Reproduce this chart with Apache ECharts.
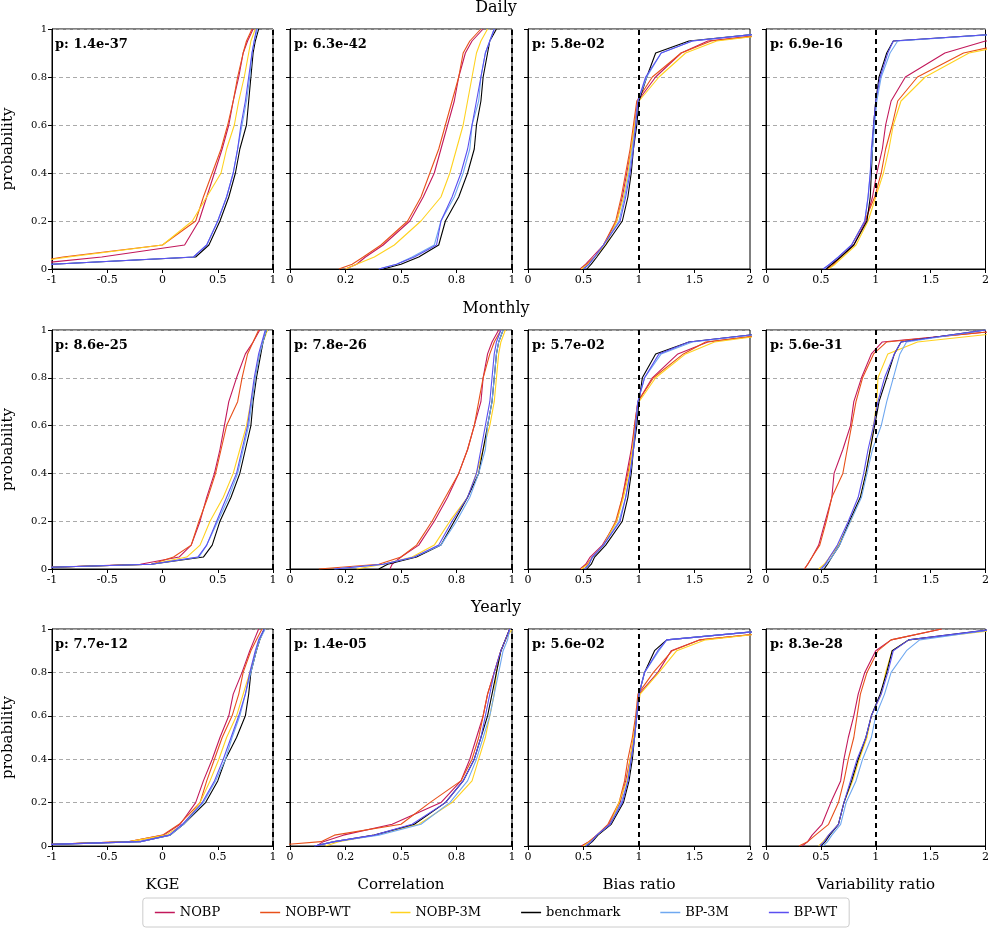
<!DOCTYPE html>
<html>
<head>
<meta charset="utf-8">
<script src="https://cdn.jsdelivr.net/npm/echarts@6/dist/echarts.min.js"></script>
<style>html,body{margin:0;padding:0;background:#fff}#main{width:992px;height:935px}</style>
</head>
<body>
<div id="main"></div>
<script>
// probability levels shared by every curve
const P = [0, 0.02, 0.05, 0.1, 0.2, 0.3, 0.4, 0.5, 0.6, 0.7, 0.8, 0.9, 0.95, 1];
const names = ['NOBP', 'NOBP-WT', 'NOBP-3M', 'benchmark', 'BP-3M', 'BP-WT'];
const colors = ['#c2185b', '#e8501a', '#ffd21f', '#000000', '#6fa8f0', '#5b4ff0'];
const rowTitles = ['Daily', 'Monthly', 'Yearly'];
const metrics = ['KGE', 'Correlation', 'Bias ratio', 'Variability ratio'];
const pvals = [
  ['1.4e-37', '6.3e-42', '5.8e-02', '6.9e-16'],
  ['8.6e-25', '7.8e-26', '5.7e-02', '5.6e-31'],
  ['7.7e-12', '1.4e-05', '5.6e-02', '8.3e-28']
];

const dKGE = [
  [-1.5,-1.2,-0.55,0.2,0.33,0.4,0.47,0.54,0.6,0.64,0.69,0.73,0.77,0.82],
  [-1.5,-1.3,-0.9,0.0,0.3,0.37,0.45,0.53,0.59,0.64,0.68,0.73,0.76,0.81],
  [-1.5,-1.3,-0.85,0.0,0.27,0.4,0.53,0.58,0.65,0.69,0.74,0.78,0.8,0.84],
  [-1.5,-1.0,0.3,0.42,0.52,0.6,0.66,0.7,0.76,0.78,0.8,0.82,0.84,0.87],
  [-1.5,-1.0,0.28,0.4,0.5,0.58,0.64,0.68,0.72,0.76,0.79,0.81,0.83,0.86],
  [-1.5,-1.0,0.28,0.4,0.5,0.58,0.64,0.68,0.71,0.75,0.78,0.81,0.83,0.85]
];
const dCorr = [
  [0.25,0.3,0.34,0.42,0.54,0.6,0.65,0.68,0.71,0.74,0.76,0.79,0.82,0.87],
  [0.22,0.28,0.33,0.41,0.53,0.59,0.63,0.67,0.7,0.73,0.76,0.78,0.81,0.86],
  [0.25,0.3,0.38,0.47,0.59,0.68,0.72,0.75,0.78,0.8,0.82,0.84,0.86,0.89],
  [0.42,0.5,0.58,0.67,0.7,0.76,0.8,0.83,0.84,0.86,0.87,0.89,0.9,0.93],
  [0.4,0.48,0.55,0.65,0.68,0.74,0.78,0.81,0.82,0.85,0.86,0.88,0.9,0.92],
  [0.4,0.48,0.56,0.66,0.68,0.73,0.77,0.8,0.82,0.84,0.86,0.88,0.9,0.92]
];
const dBias = [
  [0.47,0.52,0.58,0.68,0.8,0.85,0.89,0.93,0.96,0.99,1.15,1.38,1.62,2.6],
  [0.48,0.53,0.6,0.68,0.79,0.84,0.88,0.92,0.95,0.98,1.12,1.38,1.65,2.6],
  [0.48,0.54,0.6,0.7,0.8,0.86,0.9,0.93,0.96,1.0,1.18,1.42,1.7,2.6],
  [0.53,0.57,0.62,0.7,0.85,0.9,0.93,0.95,0.98,1.0,1.07,1.15,1.45,2.5],
  [0.5,0.55,0.6,0.68,0.82,0.87,0.91,0.94,0.97,0.99,1.07,1.2,1.48,2.5],
  [0.5,0.55,0.6,0.68,0.83,0.88,0.92,0.95,0.97,0.99,1.06,1.2,1.48,2.5]
];
const dVar = [
  [0.55,0.6,0.68,0.8,0.91,0.97,1.01,1.06,1.09,1.14,1.27,1.63,2.0,3.5],
  [0.56,0.62,0.68,0.78,0.9,0.99,1.05,1.09,1.15,1.2,1.38,1.8,2.3,4],
  [0.57,0.63,0.7,0.82,0.93,1.0,1.07,1.12,1.16,1.23,1.45,1.85,2.4,4],
  [0.55,0.6,0.68,0.8,0.92,0.95,0.96,0.97,0.98,1.0,1.03,1.1,1.16,2.8],
  [0.53,0.58,0.66,0.78,0.9,0.93,0.95,0.97,0.99,1.01,1.05,1.13,1.2,2.8],
  [0.52,0.58,0.66,0.78,0.9,0.93,0.95,0.96,0.98,1.0,1.04,1.11,1.16,2.8]
];

const mKGE = [
  [-1.5,-0.2,0.15,0.26,0.34,0.4,0.47,0.52,0.56,0.6,0.67,0.75,0.82,0.88],
  [-1.5,-0.1,0.1,0.26,0.33,0.41,0.48,0.53,0.58,0.68,0.72,0.77,0.82,0.87],
  [-1.5,-0.1,0.22,0.34,0.43,0.55,0.64,0.7,0.76,0.8,0.84,0.88,0.91,0.95],
  [-1.5,-0.1,0.37,0.45,0.52,0.62,0.7,0.75,0.8,0.82,0.85,0.89,0.91,0.94],
  [-1.5,-0.1,0.33,0.4,0.5,0.6,0.68,0.73,0.78,0.81,0.84,0.88,0.91,0.94],
  [-1.5,-0.1,0.32,0.4,0.49,0.58,0.67,0.72,0.77,0.8,0.83,0.87,0.9,0.93]
];
const mCorr = [
  [0.45,0.46,0.5,0.58,0.65,0.71,0.76,0.8,0.83,0.86,0.87,0.89,0.91,0.94],
  [0.13,0.4,0.5,0.57,0.64,0.7,0.76,0.8,0.83,0.85,0.87,0.9,0.92,0.95],
  [0.3,0.42,0.55,0.65,0.72,0.8,0.84,0.87,0.9,0.92,0.93,0.94,0.95,0.97],
  [0.4,0.44,0.57,0.68,0.74,0.8,0.85,0.87,0.89,0.91,0.92,0.93,0.94,0.96],
  [0.2,0.42,0.56,0.68,0.75,0.81,0.85,0.88,0.89,0.91,0.92,0.93,0.94,0.96],
  [0.2,0.42,0.56,0.67,0.73,0.8,0.84,0.86,0.88,0.9,0.91,0.92,0.93,0.95]
];
const mBias = [
  [0.47,0.52,0.56,0.67,0.8,0.85,0.89,0.93,0.96,0.99,1.12,1.35,1.62,2.5],
  [0.48,0.53,0.58,0.68,0.79,0.85,0.9,0.94,0.96,0.99,1.13,1.4,1.6,2.5],
  [0.48,0.54,0.58,0.68,0.8,0.86,0.91,0.94,0.97,1.0,1.15,1.42,1.68,2.5],
  [0.53,0.57,0.6,0.7,0.85,0.9,0.93,0.95,0.98,1.0,1.03,1.15,1.45,2.4],
  [0.51,0.55,0.58,0.68,0.82,0.88,0.92,0.95,0.97,0.99,1.05,1.2,1.48,2.4],
  [0.51,0.55,0.58,0.68,0.83,0.88,0.92,0.95,0.97,0.99,1.05,1.18,1.45,2.4]
];
const mVar = [
  [0.35,0.38,0.42,0.48,0.54,0.6,0.62,0.7,0.77,0.8,0.87,0.96,1.06,2.2],
  [0.35,0.38,0.42,0.49,0.55,0.6,0.7,0.74,0.78,0.82,0.88,0.98,1.1,2.2],
  [0.48,0.53,0.58,0.66,0.77,0.86,0.91,0.95,0.98,1.01,1.02,1.11,1.38,2.4],
  [0.53,0.56,0.6,0.67,0.76,0.86,0.91,0.95,0.99,1.03,1.1,1.17,1.23,2.0],
  [0.5,0.55,0.6,0.67,0.77,0.87,0.92,0.97,1.05,1.1,1.16,1.22,1.28,2.0],
  [0.5,0.54,0.58,0.65,0.75,0.84,0.89,0.93,0.98,1.02,1.08,1.17,1.23,2.0]
];

const yKGE = [
  [-1.5,-0.3,0.01,0.16,0.3,0.37,0.45,0.52,0.6,0.64,0.72,0.79,0.83,0.87],
  [-1.5,-0.3,0.0,0.15,0.34,0.4,0.47,0.54,0.63,0.69,0.73,0.8,0.85,0.9],
  [-1.5,-0.3,0.03,0.19,0.34,0.43,0.51,0.58,0.67,0.73,0.79,0.85,0.88,0.92],
  [-1.5,-0.2,0.07,0.19,0.39,0.5,0.57,0.67,0.75,0.78,0.8,0.85,0.88,0.92],
  [-1.5,-0.2,0.07,0.19,0.37,0.48,0.57,0.63,0.7,0.75,0.8,0.85,0.88,0.93],
  [-1.5,-0.2,0.06,0.18,0.36,0.47,0.55,0.62,0.69,0.75,0.79,0.84,0.87,0.92]
];
const yCorr = [
  [0.12,0.15,0.24,0.46,0.68,0.77,0.81,0.84,0.87,0.89,0.92,0.95,0.97,0.99],
  [-0.1,0.14,0.2,0.5,0.63,0.77,0.82,0.85,0.87,0.89,0.92,0.95,0.97,0.99],
  [0.16,0.22,0.38,0.58,0.73,0.82,0.85,0.88,0.9,0.92,0.93,0.95,0.97,1.0],
  [0.11,0.2,0.38,0.56,0.7,0.78,0.83,0.86,0.89,0.91,0.93,0.95,0.97,0.99],
  [0.11,0.2,0.4,0.59,0.72,0.8,0.84,0.87,0.9,0.92,0.94,0.96,0.98,0.99],
  [0.11,0.2,0.38,0.55,0.7,0.78,0.83,0.86,0.88,0.9,0.92,0.95,0.97,0.99]
];
const yBias = [
  [0.48,0.55,0.62,0.73,0.83,0.88,0.92,0.95,0.98,1.0,1.17,1.29,1.55,2.5],
  [0.49,0.55,0.62,0.72,0.82,0.87,0.9,0.94,0.97,0.99,1.13,1.3,1.55,2.5],
  [0.5,0.56,0.63,0.74,0.82,0.89,0.92,0.95,0.98,1.01,1.18,1.34,1.6,2.5],
  [0.53,0.58,0.63,0.75,0.86,0.91,0.94,0.96,0.98,1.0,1.05,1.14,1.25,2.3],
  [0.52,0.57,0.62,0.74,0.84,0.9,0.93,0.96,0.98,1.0,1.05,1.18,1.25,2.3],
  [0.52,0.57,0.62,0.74,0.85,0.9,0.93,0.96,0.98,1.0,1.05,1.17,1.25,2.3]
];
const yVar = [
  [0.33,0.38,0.42,0.51,0.59,0.68,0.71,0.75,0.8,0.84,0.9,1.0,1.14,1.6],
  [0.3,0.38,0.45,0.57,0.66,0.71,0.75,0.8,0.83,0.86,0.92,1.02,1.14,1.6],
  [0.48,0.52,0.57,0.66,0.71,0.79,0.85,0.92,0.96,1.05,1.09,1.15,1.3,2.2],
  [0.5,0.54,0.58,0.66,0.71,0.78,0.84,0.91,0.96,1.04,1.1,1.15,1.3,2.1],
  [0.52,0.56,0.6,0.68,0.73,0.82,0.88,0.96,1.0,1.08,1.14,1.28,1.4,2.1],
  [0.49,0.53,0.57,0.66,0.71,0.77,0.83,0.91,0.96,1.05,1.11,1.16,1.3,2.1]
];

const panels = [
  [dKGE, dCorr, dBias, dVar],
  [mKGE, mCorr, mBias, mVar],
  [yKGE, yCorr, yBias, yVar]
];

const colLeft = [51, 290, 528, 766];
const colW = 222;
const rowTop = [29, 330, 629];
const rowH = [240, 239, 217];
const serif = 'DejaVu Serif';

const xRange = [[-1, 1, 0.5], [0, 1, 0.25], [0, 2, 0.5], [0, 2, 0.5]];
const corrLabels = {0: '0', 0.25: '0.2', 0.5: '0.5', 0.75: '0.8', 1: '1'};

const grid = [], xAxis = [], yAxis = [], series = [], graphic = [];
rowTitles.forEach((t, r) => {
  graphic.push({type: 'text', left: 'center', top: rowTop[r] - 29,
    style: {text: t, font: '16px ' + serif, fill: '#000'}});
});

let gi = 0;
for (let r = 0; r < 3; r++) {
  for (let c = 0; c < 4; c++) {
    grid.push({left: colLeft[c], top: rowTop[r], width: colW, height: rowH[r],
      show: true, borderColor: '#000', borderWidth: 1, containLabel: false});
    const [mn, mx, iv] = xRange[c];
    xAxis.push({
      type: 'value', gridIndex: gi, min: mn, max: mx, interval: iv,
      name: r === 2 ? metrics[c] : '', nameLocation: 'middle', nameGap: 32,
      nameTextStyle: {fontFamily: serif, fontSize: 15, color: '#000'},
      axisLine: {show: true, onZero: false, lineStyle: {color: '#000'}},
      axisTick: {show: true, length: 4, lineStyle: {color: '#000'}},
      axisLabel: {fontFamily: serif, fontSize: 11, color: '#000', margin: 6,
        formatter: c === 1 ? (v => corrLabels[v] !== undefined ? corrLabels[v] : '') : (v => String(v))},
      splitLine: {show: false}
    });
    yAxis.push({
      type: 'value', gridIndex: gi, min: 0, max: 1, interval: 0.2,
      name: c === 0 ? 'probability' : '', nameLocation: 'middle', nameGap: 36,
      nameTextStyle: {fontFamily: serif, fontSize: 15, color: '#000'},
      axisLine: {show: true, onZero: false, lineStyle: {color: '#000'}},
      axisTick: {show: true, length: 4, lineStyle: {color: '#000'}},
      axisLabel: {show: c === 0, fontFamily: serif, fontSize: 10, color: '#000', margin: 5,
        formatter: v => String(Math.round(v * 10) / 10)},
      splitLine: {show: true, lineStyle: {color: '#aaa', type: [4, 3]}}
    });
    panels[r][c].forEach((xs, s) => {
      const ser = {
        name: names[s], type: 'line', xAxisIndex: gi, yAxisIndex: gi,
        data: xs.map((x, k) => [x, P[k]]),
        symbol: 'none', clip: true, z: 3,
        lineStyle: {color: colors[s], width: 1.1}, itemStyle: {color: colors[s]}
      };
      if (s === 0) {
        ser.markLine = {silent: true, symbol: 'none', label: {show: false},
          lineStyle: {color: '#000', type: [5, 4], width: 2},
          data: [{xAxis: 1}]};
      }
      series.push(ser);
    });
    graphic.push({type: 'text', left: colLeft[c] + 4, top: rowTop[r] + 9, z: 10,
      style: {text: 'p: ' + pvals[r][c], font: 'bold 13px ' + serif, fill: '#000'}});
    gi++;
  }
}

const chart = echarts.init(document.getElementById('main'));
chart.setOption({
  animation: false,
  textStyle: {fontFamily: serif},
  grid, xAxis, yAxis, series, graphic,
  legend: {
    data: names, bottom: 8, left: 'center',
    icon: 'rect', itemWidth: 20, itemHeight: 1.5, itemGap: 40,
    borderColor: '#ccc', borderWidth: 1, borderRadius: 3, padding: [8, 12],
    textStyle: {fontFamily: serif, fontSize: 13, color: '#000'}
  }
});
</script>
</body>
</html>
